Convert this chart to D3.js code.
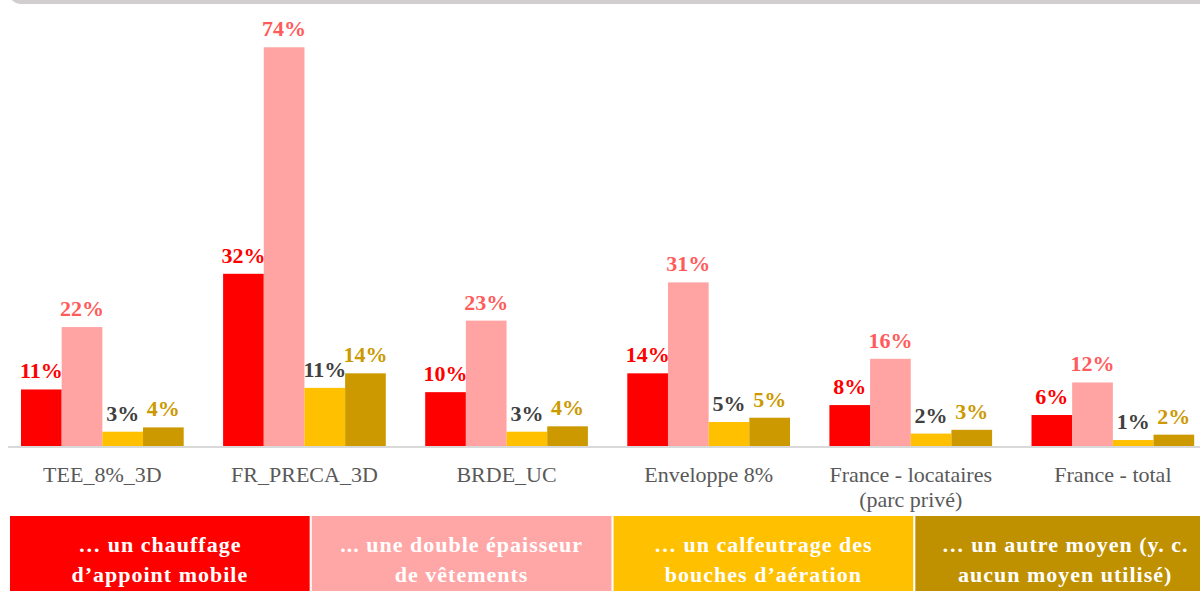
<!DOCTYPE html>
<html lang="fr">
<head>
<meta charset="utf-8">
<title>Moyens utilisés contre le froid</title>
<script type="text/javascript" src="https://d3js.org/d3.v7.min.js"></script>
<style>
body { margin: 0; background: #fff; }
#chart { width: 1200px; height: 591px; overflow: hidden; }
text { font-family: "Liberation Serif", "Times New Roman", serif; }
.label--bar { font-size: 22px; font-weight: bold; text-anchor: middle; }
.label--x { font-size: 22px; fill: #595959; text-anchor: middle; }
.legend text { font-size: 22px; font-weight: bold; fill: #fff; text-anchor: middle; letter-spacing: 1px; }
</style>
</head>
<body>

<div id="chart"></div>

<script type="text/javascript">

var categories = ["TEE_8%_3D", "FR_PRECA_3D", "BRDE_UC", "Enveloppe 8%", "France - locataires", "France - total"];
var categoryLabels = [["TEE_8%_3D"], ["FR_PRECA_3D"], ["BRDE_UC"], ["Enveloppe 8%"], ["France - locataires", "(parc privé)"], ["France - total"]];

var series = ["chauffage", "vetements", "calfeutrage", "autre"];
var seriesLabels = [
    ["… un chauffage", "d’appoint  mobile"],
    ["... une double épaisseur", "de vêtements"],
    ["… un calfeutrage des", "bouches d’aération"],
    ["… un autre moyen (y. c.", "aucun moyen utilisé)"]
];

// % of households
var chauffage   = [10.6, 32.1, 10.1, 13.6, 7.7, 5.85];
var vetements   = [22.2, 74.2, 23.4, 30.5, 16.3, 11.9];
var calfeutrage = [2.75, 10.9, 2.75, 4.55, 2.4, 1.2];
var autre       = [3.55, 13.6, 3.75, 5.35, 3.1, 2.2];

var values = [chauffage, vetements, calfeutrage, autre];

var barColors   = ["#ff0000", "#ffa3a3", "#ffc000", "#cc9900"];
var labelColors = ["#ff0000", "#ff5b5b", "#404040", "#cc9900"];
var legendColors = ["#ff0000", "#ffa7a7", "#ffc000", "#bf9000"];

var width = 1200, height = 591;
var baseline = 446.5;

var svg = d3.select("#chart").append("svg")
    .attr("width", width)
    .attr("height", height);

// grey frame edge at the top
svg.append("rect")
    .attr("x", 10)
    .attr("y", -30)
    .attr("width", 1210)
    .attr("height", 34)
    .attr("rx", 10)
    .style("fill", "#d0cece");

var x0 = d3.scaleBand().domain(categories).range([1.3, 1213.9]).paddingInner(0.195).paddingOuter(0.0975);
var x1 = d3.scaleBand().domain(series).range([0, x0.bandwidth()]);
var y = d3.scaleLinear().domain([0, 100]).range([baseline, baseline - 538]);

var formatPct = (v) => Math.round(v) + "%";

var groups = svg.append("g").selectAll(".group")
    .data(categories)
    .enter().append("g")
        .attr("class", "group")
        .attr("transform", (d) => "translate(" + x0(d) + ",0)");

groups.selectAll("rect")
    .data((d, i) => series.map((s, j) => ({s: s, j: j, v: values[j][i]})))
    .enter().append("rect")
        .attr("x", (d) => x1(d.s))
        .attr("y", (d) => y(d.v))
        .attr("width", x1.bandwidth())
        .attr("height", (d) => baseline - y(d.v))
        .style("fill", (d) => barColors[d.j]);

groups.selectAll(".label--bar")
    .data((d, i) => series.map((s, j) => ({s: s, j: j, v: values[j][i]})))
    .enter().append("text")
        .attr("class", "label--bar")
        .attr("x", (d) => x1(d.s) + x1.bandwidth() / 2)
        .attr("y", (d) => y(d.v) - 11)
        .style("fill", (d) => labelColors[d.j])
        .text((d) => formatPct(d.v));

// axis line
svg.append("line")
    .attr("x1", 8)
    .attr("x2", width)
    .attr("y1", baseline + 0.5)
    .attr("y2", baseline + 0.5)
    .style("stroke", "#d9d9d9")
    .style("stroke-width", 2);

var xLabels = svg.append("g").selectAll(".label--x")
    .data(categories)
    .enter().append("text")
        .attr("class", "label--x")
        .attr("transform", (d) => "translate(" + (x0(d) + x0.bandwidth() / 2) + ",482)");

xLabels.selectAll("tspan")
    .data((d, i) => categoryLabels[i])
    .enter().append("tspan")
        .attr("x", 0)
        .attr("y", (d, i) => i * 25)
        .text((d) => d);

// legend boxes
var lx = d3.scaleBand().domain(series).range([10, 1215]).paddingInner(0.007);

var legend = svg.append("g")
    .attr("class", "legend")
    .selectAll("g")
    .data(series)
    .enter().append("g")
        .attr("transform", (d) => "translate(" + lx(d) + ",516)");

legend.append("rect")
    .attr("width", lx.bandwidth())
    .attr("height", 80)
    .style("fill", (d, i) => legendColors[i]);

legend.append("text")
    .attr("transform", "translate(" + lx.bandwidth() / 2 + ",0)")
    .selectAll("tspan")
    .data((d, i) => seriesLabels[i])
    .enter().append("tspan")
        .attr("x", 0)
        .attr("y", (d, i) => 36 + i * 30)
        .text((d) => d);

</script>

</body>
</html>
